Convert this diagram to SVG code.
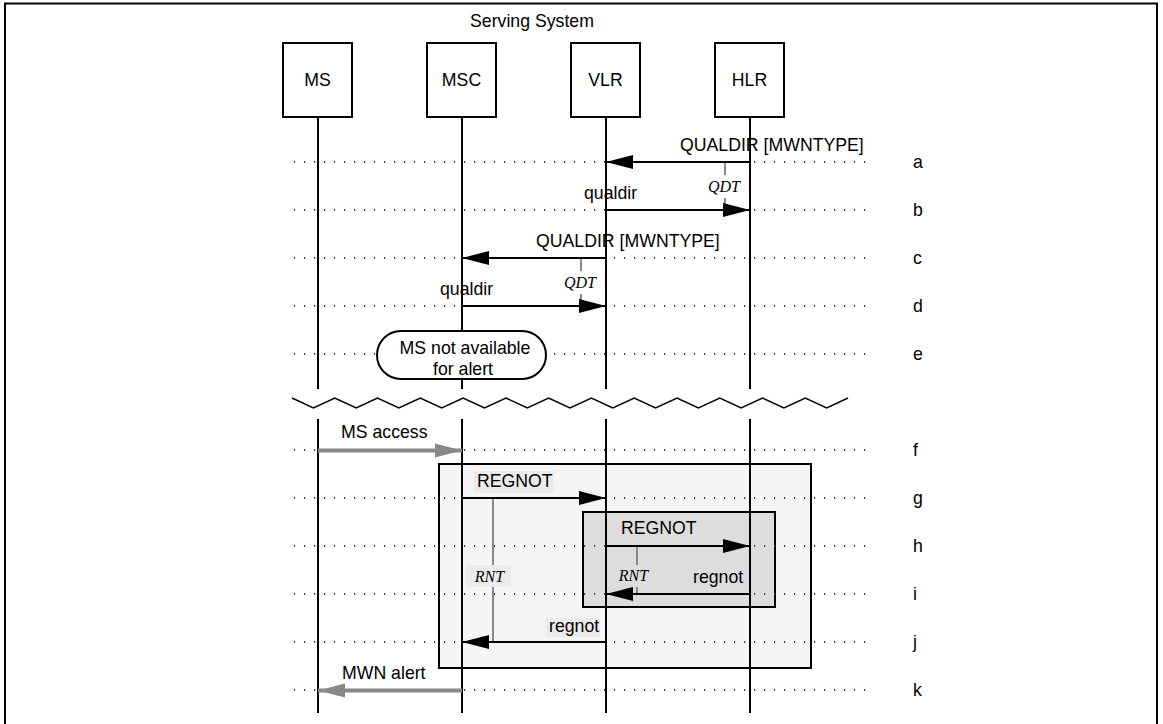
<svg xmlns="http://www.w3.org/2000/svg" width="1163" height="724" viewBox="0 0 1163 724">
<style>
text{font-family:"Liberation Sans",Arial,sans-serif;font-size:17.7px;fill:#000}
.tm{font-family:"Liberation Serif","Times New Roman",serif;font-style:italic;font-size:16px}
.node{fill:#fff;stroke:#000;stroke-width:2}
.life{stroke:#000;stroke-width:2;fill:none}
.dot{stroke:#444;stroke-width:2;stroke-dasharray:1.2 8.8;fill:none}
.msg{stroke:#000;stroke-width:2;fill:none;marker-end:url(#ah)}
.gmsg{stroke:#888;stroke-width:4;fill:none;marker-end:url(#gah)}
.tick{stroke:#888;stroke-width:2;fill:none}
.mid{text-anchor:middle}
</style>
<defs>
<marker id="ah" markerUnits="userSpaceOnUse" markerWidth="28" markerHeight="16" refX="27" refY="7" orient="auto" overflow="visible"><path d="M0,0 L27,7 L0,14 Z" fill="#000"/></marker>
<marker id="gah" markerUnits="userSpaceOnUse" markerWidth="28" markerHeight="16" refX="27" refY="7" orient="auto" overflow="visible"><path d="M0,0 L27,7 L0,14 Z" fill="#888"/></marker>
</defs>
<rect x="5" y="3.5" width="1152" height="740" fill="#fff" stroke="#000" stroke-width="2"/>
<text class="mid" x="532" y="27">Serving System</text>

<g id="frames">
<rect id="outer-box" x="439" y="464" width="372" height="204" fill="#f5f5f5" stroke="#000" stroke-width="2"/>
<rect id="inner-box" x="583" y="512" width="192" height="95" fill="#dddddd" stroke="#000" stroke-width="2"/>
</g>

<g id="rows">
<path class="dot" d="M294,162H870M294,210H870M294,258H870M294,306H870M294,354H870M294,450H870M294,498H870M294,546H870M294,594H870M294,642H870M294,690H870"/>
<text x="913" y="168">a</text>
<text x="913" y="216">b</text>
<text x="913" y="264">c</text>
<text x="913" y="312">d</text>
<text x="913" y="360">e</text>
<text x="913" y="456">f</text>
<text x="913" y="504">g</text>
<text x="913" y="552">h</text>
<text x="913" y="600">i</text>
<text x="913" y="648">j</text>
<text x="913" y="696">k</text>
</g>

<g id="MS">
<rect class="node" x="283" y="43" width="69" height="74"/>
<text class="mid" x="317.5" y="86">MS</text>
<path class="life" d="M318,117V389M318,419V713"/>
</g>
<g id="MSC">
<rect class="node" x="427" y="43" width="69" height="74"/>
<text class="mid" x="461.5" y="86">MSC</text>
<path class="life" d="M462,117V389M462,419V713"/>
</g>
<g id="VLR">
<rect class="node" x="571" y="43" width="69" height="74"/>
<text class="mid" x="605.5" y="86">VLR</text>
<path class="life" d="M606,117V389M606,419V713"/>
</g>
<g id="HLR">
<rect class="node" x="715" y="43" width="69" height="74"/>
<text class="mid" x="749.5" y="86">HLR</text>
<path class="life" d="M750,117V389M750,419V713"/>
</g>

<g id="break">
<polyline fill="none" stroke="#000" stroke-width="1.5" points="292,398 313.4,408 334.8,398 356.2,408 377.5,398 398.9,408 420.3,398 441.7,408 463.1,398 484.5,408 505.9,398 527.3,408 548.6,398 570,408 591.4,398 612.8,408 634.2,398 655.6,408 677,398 698.4,408 719.8,398 741.1,408 762.5,398 783.9,408 805.3,398 826.7,408 848,398"/>
</g>

<g id="state-e">
<rect x="377" y="331" width="169" height="48" rx="24" ry="24" fill="#fff" stroke="#000" stroke-width="2"/>
<text class="mid" x="465" y="354">MS not available</text>
<text class="mid" x="463" y="375">for alert</text>
</g>

<g id="timers">
<path class="tick" d="M725,162V210M581,258V306M493,498V642M637,546V594"/>
<rect x="709" y="175" width="32" height="23" fill="#fff"/>
<text class="tm mid" x="724" y="192">QDT</text>
<rect x="565" y="271" width="32" height="23" fill="#fff"/>
<text class="tm mid" x="580" y="288">QDT</text>
<rect x="466" y="565" width="45" height="22" fill="#ebebeb"/>
<text class="tm mid" x="489.5" y="581.5">RNT</text>
<rect x="615" y="565" width="40" height="22" fill="#dddddd"/>
<text class="tm mid" x="633.5" y="581">RNT</text>
</g>

<g id="connectors">
<line class="msg" x1="750" y1="162" x2="606" y2="162"/>
<text x="680" y="151">QUALDIR [MWNTYPE]</text>
<line class="msg" x1="606" y1="210" x2="750" y2="210"/>
<text x="584" y="199">qualdir</text>
<line class="msg" x1="606" y1="258" x2="462" y2="258"/>
<text x="536" y="247">QUALDIR [MWNTYPE]</text>
<line class="msg" x1="462" y1="306" x2="606" y2="306"/>
<text x="440" y="295">qualdir</text>
<line class="gmsg" x1="318" y1="450.5" x2="462" y2="450.5"/>
<text x="341" y="438">MS access</text>
<rect x="474" y="471" width="80" height="22" fill="#ebebeb"/>
<text x="477" y="487">REGNOT</text>
<line class="msg" x1="462" y1="498" x2="606" y2="498"/>
<line class="msg" x1="606" y1="546" x2="750" y2="546"/>
<text x="621" y="534">REGNOT</text>
<line class="msg" x1="750" y1="594" x2="606" y2="594"/>
<text x="693" y="582.5">regnot</text>
<rect x="545.5" y="618" width="54" height="19" fill="#ebebeb"/>
<text x="549" y="631.5">regnot</text>
<line class="msg" x1="606" y1="642" x2="462" y2="642"/>
<line class="gmsg" x1="462" y1="690.5" x2="318" y2="690.5"/>
<text x="342" y="679">MWN alert</text>
</g>
</svg>
